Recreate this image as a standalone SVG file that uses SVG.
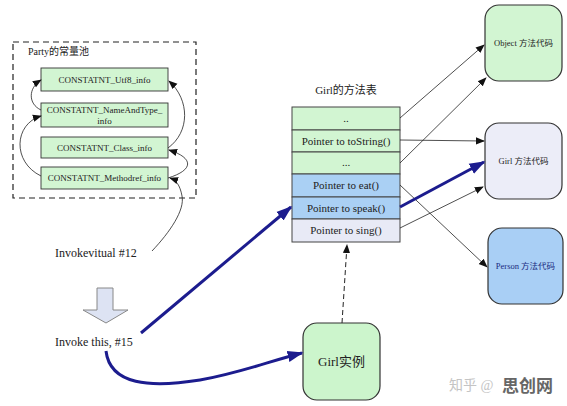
<svg xmlns="http://www.w3.org/2000/svg" width="567" height="406" viewBox="0 0 567 406">
<defs>
<marker id="ah" viewBox="0 0 10 10" refX="9" refY="5" markerWidth="9" markerHeight="9" markerUnits="userSpaceOnUse" orient="auto"><path d="M0,1 L10,5 L0,9 z" fill="#111"/></marker>
<marker id="ahb" viewBox="0 0 10 10" refX="9" refY="5" markerWidth="16" markerHeight="16" markerUnits="userSpaceOnUse" orient="auto"><path d="M0,1.5 L10,5 L0,8.5 z" fill="#1c1c8e"/></marker>
<style>
text{font-family:"Liberation Serif","Noto Sans CJK SC",serif;fill:#222;}
.cp{fill:#d2f5d2;stroke:#333;stroke-width:0.9;}
.cpt{font-size:9px;text-anchor:middle;}
.row{stroke:#444;stroke-width:1;}
.rt{font-size:11px;text-anchor:middle;}
.thin{fill:none;stroke:#222;stroke-width:0.8;}
.blue{fill:none;stroke:#1c1c8e;stroke-width:3;}
.box{stroke:#333;stroke-width:1.2;}
.bt{font-size:8.5px;text-anchor:middle;}
</style>
</defs>

<g id="constant-pool">
<rect x="13" y="42" width="183" height="156" fill="none" stroke="#222" stroke-width="1.2" stroke-dasharray="6,4"/>
<text x="28" y="55" font-size="10">Party的常量池</text>
</g>
<g id="cp-utf8"><rect class="cp" x="41" y="68" width="127" height="23"/><text class="cpt" x="104.5" y="83">CONSTATNT_Utf8_info</text></g>
<g id="cp-nameandtype"><rect class="cp" x="41" y="103" width="127" height="24"/><text class="cpt" x="104.5" y="113">CONSTATNT_NameAndType_</text><text class="cpt" x="104.5" y="124">info</text></g>
<g id="cp-class"><rect class="cp" x="41" y="137" width="127" height="21"/><text class="cpt" x="104.5" y="151">CONSTATNT_Class_info</text></g>
<g id="cp-methodref"><rect class="cp" x="41" y="167" width="127" height="22"/><text class="cpt" x="104.5" y="181">CONSTATNT_Methodref_info</text></g>

<g id="method-table">
<text x="346" y="94" font-size="11" text-anchor="middle">Girl的方法表</text>
<rect class="row" x="292" y="107" width="108" height="23" fill="#d2f5d2"/>
<text class="rt" x="346" y="122">..</text>
<rect class="row" x="292" y="130" width="108" height="22" fill="#d2f5d2"/>
<text class="rt" x="346" y="145">Pointer to toString()</text>
<rect class="row" x="292" y="152" width="108" height="22" fill="#d2f5d2"/>
<text class="rt" x="346" y="166">...</text>
<rect class="row" x="292" y="174" width="108" height="23" fill="#aad0f4"/>
<text class="rt" x="346" y="189">Pointer to eat()</text>
<rect class="row" x="292" y="197" width="108" height="22" fill="#aad0f4"/>
<text class="rt" x="346" y="212">Pointer to speak()</text>
<rect class="row" x="292" y="219" width="108" height="23" fill="#e8eaf6"/>
<text class="rt" x="346" y="234">Pointer to sing()</text>
</g>

<g id="object-code"><rect class="box" x="485" y="5" width="77" height="76" rx="14" fill="#d2f5d2"/><text class="bt" x="523.5" y="46">Object 方法代码</text></g>
<g id="girl-code"><rect class="box" x="485" y="123" width="77" height="76" rx="14" fill="#ecedf8"/><text class="bt" x="523.5" y="164">Girl 方法代码</text></g>
<g id="person-code"><rect class="box" x="488" y="228" width="75" height="76" rx="14" fill="#a9cff5"/><text class="bt" x="525.5" y="269" style="fill:#1a2a80">Person 方法代码</text></g>

<g id="girl-instance"><rect class="box" x="303" y="323" width="77" height="77" rx="14" fill="#ccf5cc"/><text x="341.5" y="366" font-size="13" text-anchor="middle">Girl实例</text></g>

<g id="invokevirtual"><text x="55" y="257" font-size="12">Invokevitual #12</text></g>
<g id="down-arrow"><path d="M97,288 H113 V310 H128 L106,323 L83,310 H97 Z" fill="#dde3f3" stroke="#888" stroke-width="1"/></g>
<g id="invoke-this"><text x="55" y="346" font-size="12">Invoke this, #15</text></g>

<g id="watermark">
<text x="449" y="390" font-size="14" style="fill:#c4c4c4">知乎 @</text>
<text x="502" y="392" font-size="17" font-weight="bold" style="fill:#666">思创网</text>
</g>

<g id="connectors">
<path class="thin" d="M41,110 C28,104 28,88 41,80" marker-end="url(#ah)"/>
<path class="thin" d="M41,176 C12,162 14,124 41,116" marker-end="url(#ah)"/>
<path class="thin" d="M168,148 C190,132 190,100 169,81" marker-end="url(#ah)"/>
<path class="thin" d="M168,178 C194,170 194,158 169,150" marker-end="url(#ah)"/>
<path class="thin" d="M152,251 C170,232 185,210 182,196 C180,185 176,180 170,178" marker-end="url(#ah)"/>
<path class="thin" d="M400,118 L484,45" marker-end="url(#ah)"/>
<path class="thin" d="M400,140 L484,141" marker-end="url(#ah)"/>
<path class="thin" d="M400,163 L486,78" marker-end="url(#ah)"/>
<path class="thin" d="M400,185 L487,267" marker-end="url(#ah)"/>
<path class="thin" d="M400,228 L483,187" marker-end="url(#ah)"/>
<path class="blue" d="M400,207 L484,162" marker-end="url(#ahb)"/>
<path class="blue" d="M141,333 L291,207" marker-end="url(#ahb)"/>
<path class="blue" d="M106,351 C110,385 150,388 200,380 C240,373 270,361 302,353" marker-end="url(#ahb)"/>
<path d="M342,323 L347,245" fill="none" stroke="#222" stroke-width="1" stroke-dasharray="5,3" marker-end="url(#ah)"/>
</g>
</svg>
